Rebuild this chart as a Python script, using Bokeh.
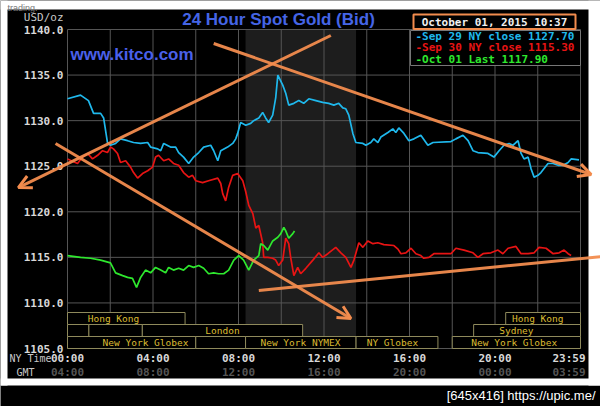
from bokeh.plotting import figure
from bokeh.models import (Range1d, LinearAxis, FixedTicker, PrintfTickFormatter,
                          Label, Arrow, OpenHead)
from bokeh.embed import file_html
from bokeh.resources import INLINE
from bokeh.core.properties import value

# ---------------- data (hours of NY time, USD/oz) ----------------
sep29_hours = [0.00, 0.61, 0.98, 1.22, 1.55, 1.69, 1.87, 2.01, 2.25, 2.48, 2.81, 3.09, 3.42, 3.75,
               3.89, 4.22, 4.36, 4.50, 4.82, 5.06, 5.20, 5.43, 5.67, 5.90, 6.14, 6.37, 6.70, 6.84,
               7.03, 7.17, 7.49, 7.73, 7.87, 7.96, 8.10, 8.34, 8.57, 8.71, 8.95, 9.13, 9.27, 9.41,
               9.60, 9.74, 9.84, 10.07, 10.21, 10.35, 10.59, 10.82, 11.05, 11.29, 11.62, 11.94,
               12.22, 12.46, 12.69, 12.88, 13.02, 13.16, 13.35, 13.49, 13.82, 13.96, 14.19, 14.33,
               14.52, 14.66, 14.99, 15.22, 15.36, 15.50, 15.74, 15.97, 16.21, 16.53, 16.86, 17.10,
               17.94, 18.17, 18.50, 18.74, 18.97, 19.20, 19.67, 19.95, 20.19, 20.42, 20.66, 20.84,
               20.98, 21.08, 21.22, 21.36, 21.55, 21.69, 21.83, 22.01, 22.15, 22.48, 22.72, 22.95,
               23.19, 23.42, 23.56, 23.93]
sep29_price = [1132.4, 1132.8, 1132.2, 1130.8, 1130.8, 1130.3, 1127.6, 1127.3, 1127.5, 1128.0,
               1127.8, 1127.6, 1127.5, 1127.6, 1127.1, 1126.9, 1126.7, 1127.5, 1127.1, 1127.1,
               1126.5, 1126.0, 1125.3, 1126.0, 1126.5, 1127.1, 1127.3, 1126.7, 1125.6, 1126.7,
               1127.1, 1127.5, 1128.0, 1128.6, 1129.8, 1129.5, 1129.7, 1130.0, 1130.3, 1130.9,
               1130.3, 1129.8, 1130.6, 1132.5, 1135.0, 1133.9, 1133.0, 1131.7, 1131.9, 1132.2,
               1131.9, 1132.4, 1132.2, 1132.0, 1131.9, 1131.7, 1131.9, 1131.4, 1131.3, 1130.6,
               1128.6, 1127.6, 1127.5, 1127.3, 1127.6, 1128.0, 1127.6, 1128.2, 1128.7, 1129.1,
               1128.7, 1129.2, 1128.6, 1127.8, 1128.0, 1128.4, 1127.3, 1127.6, 1127.7, 1128.0,
               1128.4, 1127.8, 1126.7, 1126.5, 1126.4, 1126.0, 1126.7, 1127.3, 1127.5, 1127.3,
               1127.6, 1127.8, 1126.4, 1125.8, 1126.0, 1124.7, 1123.8, 1124.0, 1124.3, 1125.3,
               1125.3, 1125.1, 1125.1, 1125.4, 1125.8, 1125.7]

sep30_hours = [0.00, 0.47, 0.70, 0.94, 1.17, 1.41, 1.64, 1.87, 2.01, 2.15, 2.34, 2.48, 2.72, 2.95,
               3.09, 3.28, 3.51, 3.75, 3.98, 4.12, 4.26, 4.50, 4.73, 4.96, 5.20, 5.43, 5.67, 5.85,
               6.00, 6.32, 6.60, 7.03, 7.17, 7.26, 7.40, 7.54, 7.73, 7.96, 8.20, 8.34, 8.48, 8.67,
               8.81, 8.95, 9.13, 9.18, 9.37, 9.60, 9.74, 9.88, 10.07, 10.21, 10.35, 10.44, 10.59,
               10.77, 10.91, 11.15, 11.48, 11.76, 11.94, 12.18, 12.55, 12.79, 13.02, 13.26, 13.40,
               13.63, 13.82, 14.05, 14.29, 14.52, 14.80, 15.27, 15.46, 15.60, 15.83, 16.07, 16.30,
               16.53, 16.67, 16.91, 17.14, 17.94, 18.17, 18.55, 18.97, 19.20, 19.44, 19.81, 20.14,
               20.37, 20.61, 20.98, 21.22, 21.55, 21.83, 22.06, 22.39, 22.72, 23.00, 23.23, 23.42,
               23.56]
sep30_price = [1125.8, 1125.3, 1126.0, 1126.4, 1125.8, 1126.2, 1126.7, 1126.5, 1127.1, 1126.9,
               1126.4, 1125.4, 1125.6, 1124.9, 1124.3, 1123.7, 1124.2, 1124.5, 1124.9, 1126.0,
               1126.2, 1125.6, 1125.8, 1125.3, 1125.1, 1124.3, 1123.8, 1124.0, 1123.4, 1123.2,
               1123.4, 1123.7, 1123.1, 1122.0, 1121.2, 1122.7, 1124.0, 1124.2, 1123.4, 1122.2,
               1120.7, 1119.8, 1118.2, 1118.5, 1116.6, 1115.0, 1115.0, 1114.9, 1114.7, 1114.1,
               1114.7, 1117.1, 1116.5, 1115.0, 1113.0, 1113.9, 1113.2, 1113.8, 1114.7, 1115.5,
               1115.0, 1115.4, 1116.1, 1115.5, 1115.0, 1113.9, 1114.7, 1116.6, 1116.1, 1116.8,
               1116.5, 1116.6, 1116.4, 1116.3, 1115.9, 1115.4, 1115.5, 1116.0, 1115.4, 1115.2,
               1114.9, 1115.0, 1115.4, 1115.4, 1116.0, 1115.8, 1115.5, 1115.0, 1115.4, 1115.5,
               1115.8, 1115.4, 1116.0, 1116.2, 1115.4, 1115.4, 1115.5, 1116.1, 1116.0, 1115.4,
               1115.5, 1115.8, 1115.4, 1115.2]

oct01_hours = [0.00, 0.61, 1.08, 1.55, 2.01, 2.25, 2.58, 2.81, 3.04, 3.23, 3.42, 3.65, 3.89, 4.12,
               4.36, 4.59, 4.73, 4.96, 5.20, 5.43, 5.67, 5.90, 6.14, 6.37, 6.60, 6.84, 7.07, 7.31,
               7.54, 7.78, 8.01, 8.24, 8.48, 8.71, 8.95, 9.04, 9.18, 9.37, 9.60, 9.84, 9.98, 10.12,
               10.21, 10.35, 10.54, 10.62]
oct01_price = [1115.2, 1115.0, 1114.9, 1114.7, 1114.4, 1113.3, 1113.0, 1112.8, 1112.7, 1111.7,
               1112.8, 1113.6, 1113.3, 1113.9, 1113.6, 1113.3, 1113.9, 1113.6, 1113.8, 1113.6,
               1114.1, 1113.9, 1114.1, 1113.8, 1113.2, 1113.3, 1113.2, 1113.2, 1113.6, 1114.7,
               1115.2, 1114.7, 1113.6, 1114.7, 1115.2, 1116.5, 1116.3, 1115.8, 1116.8, 1117.2,
               1117.6, 1118.3, 1117.9, 1117.1, 1117.6, 1117.9]

y_ticks = [1105, 1110, 1115, 1120, 1125, 1130, 1135, 1140]
grid_hours = [0, 2, 4, 6, 8, 10, 12, 14, 16, 18, 20, 22, 24]
ny_ticks = [0, 4, 8, 12, 16, 20]
ny_labels = ["00:00", "04:00", "08:00", "12:00", "16:00", "20:00"]
gmt_labels = ["04:00", "08:00", "12:00", "16:00", "20:00", "00:00"]
end_ny_label = "23:59"
end_gmt_label = "03:59"

nymex_start, nymex_end = 8.33, 13.5

# trading sessions: name, row (0 = bottom), start hour, end hour, label hour
session_names = ["Hong Kong", "Hong Kong", "", "", "London", "Sydney",
                 "New York Globex", "", "New York NYMEX", "NY Globex", "New York Globex"]
session_rows = [2, 2, 1, 1, 1, 1, 0, 0, 0, 0, 0]
session_start = [0.0, 20.5, 0.0, 1.0, 3.5, 19.0, 0.0, 6.0, 8.33, 13.5, 18.0]
session_end = [5.5, 24.0, 1.0, 3.5, 11.0, 24.0, 6.0, 8.33, 13.5, 17.33, 24.0]
session_label_at = [2.15, 22.0, 0.5, 2.25, 7.25, 21.0, 3.65, 7.2, 10.9, 15.2, 20.9]

legend_texts = ["-Sep 29 NY close 1127.70", "-Sep 30 NY close 1115.30", "-Oct 01 Last 1117.90"]
stamp_text = "October 01, 2015 10:37"

# hand-drawn orange trend lines: (x0, y0) -> (x1, y1), arrow at end
trend_x0 = [6.84, 12.32, -0.56, 8.95]
trend_y0 = [1138.46, 1139.34, 1127.49, 1111.36]
trend_x1 = [24.50, -2.30, 13.26, 24.97]
trend_y1 = [1124.09, 1122.66, 1108.29, 1115.09]
trend_arrow = [True, True, True, False]

# ---------------- layout geometry (pixels) ----------------
FIG_W, FIG_H = 600, 406
PLOT_L, PLOT_W = 67, 513      # plot area left offset / width inside the figure
PLOT_T, PLOT_H = 29, 319      # plot area top offset / height inside the figure
PLOT_B = FIG_H - PLOT_T - PLOT_H   # space below the plot area
PLOT_R = FIG_W - PLOT_L            # px-range right end
TOP = PLOT_H + PLOT_T              # px-range top end
XMIN, XMAX = 0, 24
YMIN, YMAX = 1105, 1140
xs = (XMAX - XMIN) / PLOT_W
ys = (YMAX - YMIN) / PLOT_H

CYAN, RED, GREEN = "#1fb8ec", "#e81414", "#2ee82e"
ORANGE = "#f28c4e"
GRID = "#555555"
MONO = "DejaVu Sans Mono"
SESS_LINE, SESS_TEXT = "#8f8a5c", "#dcbc32"

p = figure(width=FIG_W, height=FIG_H,
           x_range=Range1d(XMIN - PLOT_L * xs, XMAX + (FIG_W - PLOT_L - PLOT_W) * xs),
           y_range=Range1d(YMIN - PLOT_B * ys, YMAX + PLOT_T * ys),
           output_backend="svg", toolbar_location=None,
           min_border=0, min_border_left=0, min_border_right=0,
           min_border_top=0, min_border_bottom=0,
           background_fill_color="black", border_fill_color="black",
           outline_line_color=None)
# pixel helper ranges: x=0 at plot left, y=0 at plot bottom
p.extra_x_ranges = {"px": Range1d(-PLOT_L, PLOT_R)}
p.extra_y_ranges = {"px": Range1d(-PLOT_B, TOP)}
p.grid.visible = False

# axes (fixed inside the frame)
xa = p.below[0]
xa.fixed_location = YMIN
xa.ticker = FixedTicker(ticks=ny_ticks)
xa.major_label_overrides = {t: l for t, l in zip(ny_ticks, ny_labels)}
xa.major_tick_out = 0
xa.major_tick_in = 0
xa.minor_tick_out = 0
xa.minor_tick_in = 0
xa.axis_line_color = None
xa.major_label_standoff = 3
xa.major_label_text_font = MONO
xa.major_label_text_font_style = "bold"
xa.major_label_text_font_size = "11px"
xa.major_label_text_color = "#d8d8d8"

xa2 = LinearAxis(fixed_location=YMIN, ticker=FixedTicker(ticks=ny_ticks),
                 major_label_overrides={t: l for t, l in zip(ny_ticks, gmt_labels)},
                 major_tick_out=0, major_tick_in=0, minor_tick_out=0, minor_tick_in=0,
                 axis_line_color=None, major_label_standoff=17,
                 major_label_text_font=MONO, major_label_text_font_style="bold",
                 major_label_text_font_size="11px", major_label_text_color="#555555")
p.add_layout(xa2, "below")

ya = p.left[0]
ya.fixed_location = XMIN
ya.ticker = FixedTicker(ticks=y_ticks)
ya.formatter = PrintfTickFormatter(format="%.1f")
ya.major_tick_out = 0
ya.major_tick_in = 0
ya.minor_tick_out = 0
ya.minor_tick_in = 0
ya.axis_line_color = None
ya.major_label_standoff = 4
ya.major_label_text_font = MONO
ya.major_label_text_font_style = "bold"
ya.major_label_text_font_size = "11px"
ya.major_label_text_color = "#d8d8d8"

# NYMEX shading
p.quad(left=[nymex_start], right=[nymex_end], bottom=[YMIN], top=[YMAX],
       fill_color="#1d1d1d", line_color=None)

# grid lines
p.segment(x0=grid_hours, x1=grid_hours, y0=[YMIN] * len(grid_hours), y1=[YMAX] * len(grid_hours),
          line_color=GRID, line_width=1)
p.segment(x0=[XMIN] * len(y_ticks), x1=[XMAX] * len(y_ticks), y0=y_ticks, y1=y_ticks,
          line_color=GRID, line_width=1)

# sessions
p.quad(left=session_start, right=session_end,
       bottom=[r * 12 for r in session_rows], top=[r * 12 + 12 for r in session_rows],
       y_range_name="px", fill_color="black", line_color=SESS_LINE, line_width=1)
p.text(x=session_label_at, y=[r * 12 + 6 for r in session_rows], text=session_names,
       y_range_name="px", text_font=value(MONO), text_font_size="9.5px",
       text_color=SESS_TEXT, text_align="center", text_baseline="middle")

# series
p.line(sep29_hours, sep29_price, line_color=CYAN, line_width=1.7)
p.line(sep30_hours, sep30_price, line_color=RED, line_width=1.7)
p.line(oct01_hours, oct01_price, line_color=GREEN, line_width=1.7)

# legend box
p.quad(left=[343], right=[PLOT_W], bottom=[PLOT_H - 36], top=[PLOT_H - 1],
       x_range_name="px", y_range_name="px",
       fill_color="black", line_color="#777777", line_width=1)
for txt, col, yy in zip(legend_texts, [CYAN, RED, GREEN], [PLOT_H - 7, PLOT_H - 18, PLOT_H - 30]):
    p.add_layout(Label(x=348, y=yy, x_range_name="px", y_range_name="px", text=txt,
                       text_font=MONO, text_font_style="bold", text_font_size="11px",
                       text_color=col, text_baseline="middle", text_align="left"))

# page margins of the screenshot (white): top, left, right, strip above the watermark bar
WHITE_Y0 = -37   # bottom of the white area (top of the watermark bar)
p.quad(left=[-PLOT_L], right=[PLOT_R], bottom=[TOP - 9], top=[TOP],
       x_range_name="px", y_range_name="px", fill_color="white", line_color=None)
p.quad(left=[-PLOT_L], right=[-60], bottom=[WHITE_Y0], top=[TOP],
       x_range_name="px", y_range_name="px", fill_color="white", line_color=None)
p.quad(left=[521], right=[PLOT_R], bottom=[WHITE_Y0], top=[TOP],
       x_range_name="px", y_range_name="px", fill_color="white", line_color=None)
p.quad(left=[-PLOT_L], right=[PLOT_R], bottom=[WHITE_Y0], top=[-30],
       x_range_name="px", y_range_name="px", fill_color="white", line_color=None)

# header
p.add_layout(Label(x=211, y=PLOT_H + 10, x_range_name="px", y_range_name="px",
                   text="24 Hour Spot Gold (Bid)", text_font="Liberation Sans",
                   text_font_style="bold", text_font_size="17px", text_color="#4565e6",
                   text_align="center", text_baseline="middle"))
p.add_layout(Label(x=-4, y=PLOT_H + 12, x_range_name="px", y_range_name="px", text="USD/oz",
                   text_font=MONO, text_font_size="11px", text_color="#c8c8c8",
                   text_align="right", text_baseline="middle"))
p.quad(left=[346], right=[508], bottom=[PLOT_H + 0.5], top=[PLOT_H + 15],
       x_range_name="px", y_range_name="px",
       fill_color="black", line_color=ORANGE, line_width=2)
p.add_layout(Label(x=427, y=PLOT_H + 7.5, x_range_name="px", y_range_name="px",
                   text=stamp_text, text_font=MONO, text_font_style="bold",
                   text_font_size="11px", text_color="#f0f0f0",
                   text_align="center", text_baseline="middle"))
p.add_layout(Label(x=3, y=PLOT_H - 25, x_range_name="px", y_range_name="px",
                   text="www.kitco.com", text_font="Liberation Sans", text_font_style="bold",
                   text_font_size="17px", text_color="#4a60ea", text_align="left",
                   text_baseline="middle"))
p.add_layout(Label(x=-60, y=TOP - 7, x_range_name="px", y_range_name="px",
                   text="trading.", text_font="Liberation Sans", text_font_size="9px",
                   text_color="#777777", text_align="left", text_baseline="alphabetic"))

# footer labels
p.add_layout(Label(x=-58, y=-10, x_range_name="px", y_range_name="px", text="NY Time",
                   text_font=MONO, text_font_size="10px", text_color="#c8c8c8",
                   text_align="left", text_baseline="middle"))
p.add_layout(Label(x=-42, y=-24, x_range_name="px", y_range_name="px", text="GMT",
                   text_font=MONO, text_font_size="10px", text_color="#c8c8c8",
                   text_align="center", text_baseline="middle"))
p.add_layout(Label(x=501.5, y=-10, x_range_name="px", y_range_name="px", text=end_ny_label,
                   text_font=MONO, text_font_style="bold", text_font_size="11px",
                   text_color="#d8d8d8", text_align="center", text_baseline="middle"))
p.add_layout(Label(x=501.5, y=-24, x_range_name="px", y_range_name="px", text=end_gmt_label,
                   text_font=MONO, text_font_style="bold", text_font_size="11px",
                   text_color="#555555", text_align="center", text_baseline="middle"))
p.add_layout(Label(x=PLOT_R - 5, y=-47, x_range_name="px", y_range_name="px",
                   text="[645x416] https://upic.me/", text_font="Liberation Sans",
                   text_font_size="13px", text_color="white", text_align="right",
                   text_baseline="middle"))

# trend lines
for x0, y0, x1, y1, arr in zip(trend_x0, trend_y0, trend_x1, trend_y1, trend_arrow):
    head = OpenHead(size=13, line_color=ORANGE, line_width=3) if arr else None
    p.add_layout(Arrow(x_start=x0, y_start=y0, x_end=x1, y_end=y1, end=head,
                       line_color=ORANGE, line_width=3, line_alpha=0.95))

open("out.html", "w").write(file_html(p, INLINE))
